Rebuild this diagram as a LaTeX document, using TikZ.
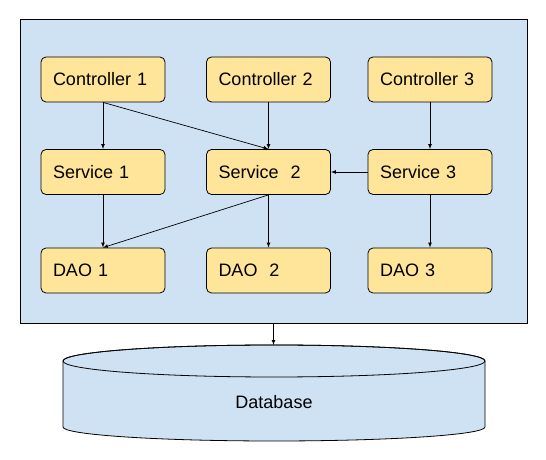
\documentclass[tikz,border=0pt]{standalone}
\usepackage{fontspec}
\setmainfont{Liberation Sans}
\usepackage{tikz}
\usetikzlibrary{calc,arrows}
\definecolor{layerblue}{HTML}{CFE2F3}
\definecolor{boxyellow}{HTML}{FFE599}

\begin{document}
\begin{tikzpicture}[x=1pt,y=1pt,line width=0.8pt,
    comp/.style={draw,fill=boxyellow,rounded corners=5pt,minimum height=45pt,
                 text width=100pt,inner xsep=12pt,align=left,
                 font=\fontsize{18}{22}\selectfont},
    link/.style={-latex,line width=0.7pt}]
                      \useasboundingbox (0,0) rectangle (546,460);
                      % application layer
                      \node[draw,fill=layerblue,minimum width=507pt,minimum height=304pt,inner sep=0pt](frame)at(273.5,289){};
                      \node[comp](c1)at(103,380.5){Controller 1};
                      \node[comp](c2)at(268.5,380.5){Controller 2};
                      \node[comp](c3)at(430,380.5){Controller 3};
                      \node[comp](s1)at(103,288){Service 1};
                      \node[comp](s2)at(268.5,288){Service\ \ 2};
                      \node[comp](s3)at(430,288){Service 3};
                      \node[comp](d1)at(103,189.5){DAO 1};
                      \node[comp](d2)at(268.5,189.5){DAO\ \ 2};
                      \node[comp](d3)at(430,189.5){DAO 3};
                      \draw[link](c1)--(s1);
                      \draw[link](c1.south)--(s2.north);
                      \draw[link](c2)--(s2);
                      \draw[link](c3)--(s3);
                      \draw[link](s3)--(s2);
                      \draw[link](s1)--(d1);
                      \draw[link](s2.south)--(d1.north);
                      \draw[link](s2)--(d2);
                      \draw[link](s3)--(d3);
                      % database
                      \filldraw[fill=layerblue](63,99)--(63,33)arc[start angle=180,end angle=360,x radius=211,y radius=14]--(485,99)arc[start angle=0,end angle=180,x radius=211,y radius=16]--cycle;
                      \draw(274,99)ellipse[x radius=211,y radius=16];
                      \coordinate(dbtop)at(273.5,115);
                      \node[font=\fontsize{18}{22}\selectfont](db)at(274,58){Database};
                      \draw[link](frame.south)--(dbtop);
\end{tikzpicture}
\end{document}
